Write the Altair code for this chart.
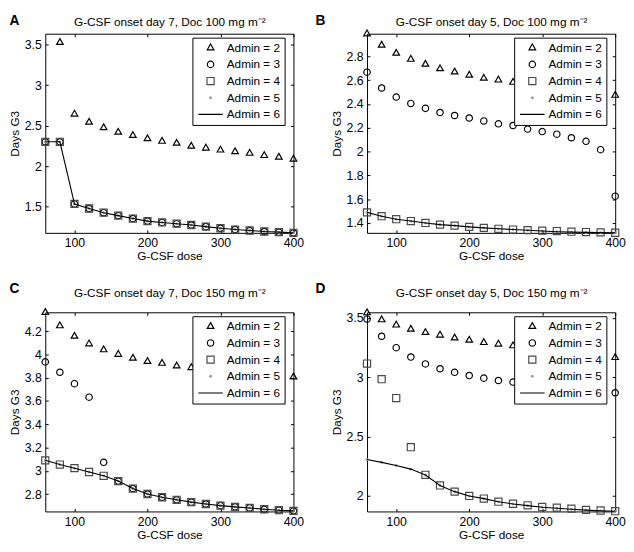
import altair as alt
import pandas as pd

FONT = "Liberation Sans"

DOSES = [60, 80, 100, 120, 140, 160, 180, 200, 220, 240, 260, 280, 300, 320, 340, 360, 380, 400]
XTICKS = [100, 200, 300, 400]
SERIES = ["Admin = 2", "Admin = 3", "Admin = 4", "Admin = 5", "Admin = 6"]

# ---- Panel A: onset day 7, Doc 100 ----
A_admin2 = [None, 3.53, 2.644, 2.544, 2.476, 2.42, 2.38, 2.34, 2.308, 2.284, 2.248, 2.224, 2.2, 2.18, 2.16, 2.132, 2.112, 2.088]
A_admin3 = [2.30, 2.30, 1.532, 1.476, 1.424, 1.388, 1.352, 1.32, 1.304, 1.288, 1.272, 1.252, 1.232, 1.216, 1.204, 1.192, 1.184, 1.176]
A_admin4 = [2.30, 2.30, 1.532, 1.476, 1.424, 1.388, 1.352, 1.32, 1.304, 1.288, 1.272, 1.252, 1.232, 1.216, 1.204, 1.192, 1.184, 1.176]
A_admin5 = [2.30, 2.30, 1.532, 1.476, 1.424, 1.388, 1.352, 1.32, 1.304, 1.288, 1.272, 1.252, 1.232, 1.216, 1.204, 1.192, 1.184, 1.176]
A_admin6 = [2.30, 2.30, 1.532, 1.476, 1.424, 1.388, 1.352, 1.32, 1.304, 1.288, 1.272, 1.252, 1.232, 1.216, 1.204, 1.192, 1.184, 1.176]
A_ydomain = [1.175, 3.636]
A_yticks = [1.5, 2, 2.5, 3, 3.5]

# ---- Panel B: onset day 5, Doc 100 ----
B_admin2 = [2.99, 2.895, 2.827, 2.776, 2.735, 2.697, 2.67, 2.643, 2.617, 2.602, 2.583, None, None, None, None, None, None, 2.474]
B_admin3 = [2.667, 2.534, 2.458, 2.404, 2.363, 2.328, 2.303, 2.282, 2.257, 2.233, 2.219, 2.189, 2.168, 2.146, 2.116, 2.086, 2.016, 1.625]
B_admin4 = [1.489, 1.457, 1.432, 1.416, 1.400, 1.386, 1.378, 1.367, 1.359, 1.351, 1.345, 1.340, 1.335, 1.332, 1.327, 1.324, 1.321, 1.318]
B_admin5 = [1.489, 1.457, 1.432, 1.416, 1.400, 1.386, 1.378, 1.367, 1.359, 1.351, 1.345, 1.339, 1.332, 1.327, 1.323, 1.321, 1.319, 1.318]
B_admin6 = [1.489, 1.457, 1.432, 1.416, 1.400, 1.386, 1.378, 1.367, 1.359, 1.351, 1.345, 1.339, 1.332, 1.327, 1.323, 1.321, 1.319, 1.318]
B_ydomain = [1.317, 2.99]
B_yticks = [1.4, 1.6, 1.8, 2, 2.2, 2.4, 2.6, 2.8]

# ---- Panel C: onset day 7, Doc 150 ----
C_admin2 = [4.362, 4.247, 4.158, 4.092, 4.041, 4.002, 3.969, 3.941, 3.925, 3.902, 3.888, None, None, None, None, None, None, 3.808]
C_admin3 = [3.936, 3.847, 3.749, 3.633, 3.073, 2.912, 2.848, 2.801, 2.773, 2.751, 2.731, 2.715, 2.701, 2.690, 2.681, 2.670, 2.662, 2.656]
C_admin4 = [3.090, 3.054, 3.023, 2.990, 2.957, 2.912, 2.848, 2.801, 2.773, 2.751, 2.731, 2.715, 2.701, 2.690, 2.681, 2.670, 2.662, 2.656]
C_admin5 = [3.090, 3.054, 3.023, 2.990, 2.957, 2.912, 2.848, 2.801, 2.773, 2.751, 2.731, 2.715, 2.701, 2.690, 2.681, 2.670, 2.662, 2.656]
C_admin6 = [3.090, 3.054, 3.023, 2.990, 2.957, 2.912, 2.848, 2.801, 2.773, 2.751, 2.731, 2.715, 2.701, 2.690, 2.681, 2.670, 2.662, 2.656]
C_ydomain = [2.651, 4.362]
C_yticks = [2.8, 3, 3.2, 3.4, 3.6, 3.8, 4, 4.2]

# ---- Panel D: onset day 5, Doc 150 ----
D_admin2 = [3.545, 3.486, 3.442, 3.407, 3.379, 3.357, 3.333, 3.314, 3.294, 3.281, 3.267, None, None, None, None, None, None, 3.168]
D_admin3 = [3.492, 3.346, 3.250, 3.171, 3.113, 3.072, 3.042, 3.015, 2.993, 2.973, 2.960, None, None, None, None, None, None, 2.870]
D_admin4 = [3.116, 2.984, 2.825, 2.411, 2.178, 2.088, 2.036, 2.000, 1.978, 1.951, 1.934, 1.921, 1.907, 1.901, 1.893, 1.882, 1.877, 1.871]
D_admin5 = [2.307, 2.283, 2.257, 2.226, 2.176, 2.088, 2.036, 2.000, 1.977, 1.950, 1.932, 1.918, 1.904, 1.896, 1.888, 1.880, 1.874, 1.870]
D_admin6 = [2.307, 2.283, 2.257, 2.226, 2.176, 2.088, 2.036, 2.000, 1.977, 1.950, 1.932, 1.918, 1.904, 1.896, 1.888, 1.880, 1.874, 1.870]
D_ydomain = [1.869, 3.548]
D_yticks = [2, 2.5, 3, 3.5]

# ---- styling (symbol paths in unit space, scaled by mark size) ----
SYM_SIZE = 625
SHAPES = [
    "M0,-0.3L0.27,0.17L-0.27,0.17Z",
    "M-0.26,0A0.26,0.26,0,1,1,0.26,0A0.26,0.26,0,1,1,-0.26,0Z",
    "M-0.29,-0.29L0.29,-0.29L0.29,0.29L-0.29,0.29Z",
    "M-0.07,0A0.07,0.07,0,1,1,0.07,0A0.07,0.07,0,1,1,-0.07,0Z",
    "M-1,0L1,0",
]
STROKES = ["black", "black", "#4a4a4a", "#9a9a9a", "black"]
FILLS = ["transparent", "transparent", "transparent", "#9a9a9a", "transparent"]

W, H = 253, 203


def make_panel(letter, title, s2, s3, s4, s5, s6, ydom, yticks, letter_dx, letter_dy, title_dy):
    rows = []
    for name, vals in zip(SERIES[:4], [s2, s3, s4, s5]):
        for d, v in zip(DOSES, vals):
            if v is not None:
                rows.append({"dose": d, "days": v, "series": name})
    pts_df = pd.DataFrame(rows)
    line_df = pd.DataFrame({"dose": DOSES, "days": s6})

    xs = alt.Scale(domain=[60, 400], nice=False, zero=False)
    ys = alt.Scale(domain=ydom, nice=False, zero=False)

    leg = alt.Legend(
        title=None, orient="none", legendX=150, legendY=4,
        labelExpr="datum.label + '   '",
    )

    pts = alt.Chart(pts_df).mark_point(
        filled=False, opacity=1, size=SYM_SIZE, strokeWidth=1.2
    ).encode(
        x=alt.X("dose:Q", scale=xs, axis=alt.Axis(
            orient="bottom", values=XTICKS, title="G-CSF dose", offset=-3,
            tickSize=3, domain=False, labelPadding=4, titlePadding=2, labelFlush=False)),
        y=alt.Y("days:Q", scale=ys, axis=alt.Axis(
            orient="left", values=yticks, format="~g", title="Days G3", offset=-3,
            tickSize=3, domain=False, labelPadding=4, titlePadding=3, labelFlush=False)),
        shape=alt.Shape("series:N", scale=alt.Scale(domain=SERIES, range=SHAPES), legend=leg),
        stroke=alt.Stroke("series:N", scale=alt.Scale(domain=SERIES, range=STROKES), legend=leg),
        fill=alt.Fill("series:N", scale=alt.Scale(domain=SERIES, range=FILLS), legend=leg),
    )

    line = alt.Chart(line_df).mark_line(color="black", strokeWidth=1.1).encode(
        x=alt.X("dose:Q", scale=xs, axis=alt.Axis(
            orient="top", values=XTICKS, labels=False, offset=-3, tickSize=3,
            domain=False, title=title, titleX=W / 2, titleY=title_dy - 3,
            titleBaseline="alphabetic", titleAlign="center")),
        y=alt.Y("days:Q", scale=ys, axis=alt.Axis(
            orient="right", values=yticks, labels=False, offset=-3, tickSize=3,
            domain=False, title=letter, titleAngle=0, titleX=letter_dx - (W - 3),
            titleY=letter_dy, titleAlign="left", titleBaseline="alphabetic",
            titleFontWeight="bold", titleFontSize=14)),
    )

    return alt.layer(pts, line).resolve_axis(x="independent", y="independent").properties(
        width=W, height=H
    )


pA = make_panel("A", "G-CSF onset day 7, Doc 100 mg m⁻²", A_admin2, A_admin3, A_admin4, A_admin5, A_admin6,
                A_ydomain, A_yticks, -37, -9, -8)
pB = make_panel("B", "G-CSF onset day 5, Doc 100 mg m⁻²", B_admin2, B_admin3, B_admin4, B_admin5, B_admin6,
                B_ydomain, B_yticks, -53, -9, -8)
pC = make_panel("C", "G-CSF onset day 7, Doc 150 mg m⁻²", C_admin2, C_admin3, C_admin4, C_admin5, C_admin6,
                C_ydomain, C_yticks, -37, -20, -16)
pD = make_panel("D", "G-CSF onset day 5, Doc 150 mg m⁻²", D_admin2, D_admin3, D_admin4, D_admin5, D_admin6,
                D_ydomain, D_yticks, -53, -20, -16)

IND = dict(shape="independent", stroke="independent", fill="independent")

row1 = alt.hconcat(pA, pB, spacing=10).resolve_scale(**IND).resolve_legend(**IND)
row2 = alt.hconcat(pC, pD, spacing=10).resolve_scale(**IND).resolve_legend(**IND)

chart = alt.vconcat(row1, row2, spacing=19).resolve_scale(**IND).resolve_legend(**IND).properties(
    padding={"left": 0, "top": 0, "right": 0, "bottom": 0}
).configure(font=FONT).configure_view(
    stroke="black", strokeWidth=1
).configure_axis(
    labelFont=FONT, titleFont=FONT, labelFontSize=12.5, titleFontSize=12,
    titleFontWeight="normal", labelColor="black", titleColor="black",
    tickColor="black", tickWidth=1, grid=False
).configure_legend(
    labelFont=FONT, labelFontSize=12, labelColor="black", padding=4, rowPadding=4,
    clipHeight=12.5, symbolOffset=1, labelOffset=3, fillColor="white",
    strokeColor="black", symbolSize=SYM_SIZE, symbolStrokeWidth=1.2, cornerRadius=0
)

chart.save("out.html", embed_options={"renderer": "svg", "actions": False})
